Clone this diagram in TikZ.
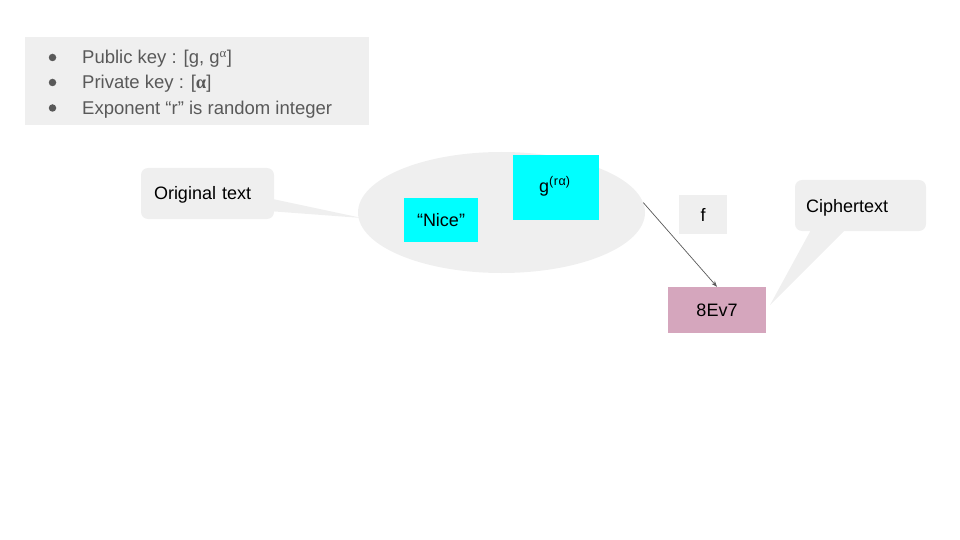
\documentclass[tikz,border=0pt]{standalone}
\usepackage{fontspec}
\setmainfont{Liberation Sans}
\newfontfamily\serifgreek{Liberation Serif}
\usetikzlibrary{arrows.meta,shapes.geometric}
\definecolor{boxgrey}{HTML}{EFEFEF}
\definecolor{txtgrey}{HTML}{595959}
\definecolor{cyanbox}{HTML}{00FFFF}
\definecolor{pinkbox}{HTML}{D5A6BD}
\definecolor{arrowgrey}{HTML}{595959}
\tikzset{
  plain/.style={inner sep=0pt, text height=13pt, text depth=0pt, font=\fontsize{18}{21}\selectfont},
  greybox/.style={plain, fill=boxgrey, draw=none},
  callout/.style={greybox, rounded corners=7pt},
  cyanrect/.style={plain, fill=cyanbox, draw=none},
  listline/.style={anchor=west, inner sep=0pt, text height=13pt, text depth=0pt, text=txtgrey, font=\fontsize{18.5}{21}\selectfont},
  bulletdot/.style={circle, fill=txtgrey, inner sep=0pt, minimum size=7.5pt},
  conn/.style={draw=arrowgrey, line width=0.7pt, -{Stealth[length=6pt,width=4.5pt]}}
}
\begin{document}
\begin{tikzpicture}[x=1pt,y=-1pt]
\useasboundingbox (0,0) rectangle (960,540);
% top info box
\node[greybox, minimum width=344pt, minimum height=88pt] (info) at (197,81) {};
\node[bulletdot] (b1) at (52.5,57.5) {};
\node[bulletdot] (b2) at (52.5,82.5) {};
\node[bulletdot] (b3) at (52.5,108) {};
\node[listline] (l1) at (82,57.5) {Public key : [g, g\textsuperscript{\serifgreek α}]};
\node[listline] (l2) at (82,82.5) {Private key : [{\serifgreek\bfseries α}]};
\node[listline] (l3) at (82,108) {Exponent “r” is random integer};
% ellipse
\node[ellipse, fill=boxgrey, inner sep=0pt, minimum width=287pt, minimum height=121pt] (ell) at (501.5,212.5) {};
% original text callout
\coordinate (otip) at (362,218);
\fill[boxgrey] (268,198) -- (otip) -- (268,211) -- cycle;
\node[callout, minimum width=133pt, minimum height=51pt, text width=107pt, align=left] (orig) at (207.5,193.5) {Original text};
% cyan boxes
\node[cyanrect, minimum width=74pt, minimum height=44pt] (nice) at (441,220) {“Nice”};
\node[cyanrect, minimum width=86pt, minimum height=65pt] (gbox) at (556,187.5) {};
\node[plain, anchor=base west] (gtxt) at (539,192) {g\textsuperscript{(\kern0.5pt r\kern0.5pt α)}};
% f box
\node[greybox, minimum width=48pt, minimum height=39pt] (f) at (703,214.5) {f};
% ciphertext
\node[plain, fill=pinkbox, minimum width=98pt, minimum height=46pt] (ct) at (717,310) {8Ev7};
\coordinate (ctip) at (770,305);
\fill[boxgrey] (812,228) -- (ctip) -- (847,228) -- cycle;
\node[callout, minimum width=131pt, minimum height=51pt, text width=109pt, align=left] (cipher) at (860.5,205.5) {Ciphertext};
% arrow
\draw[conn] (ell.4) -- (ct.north);
\end{tikzpicture}
\end{document}
